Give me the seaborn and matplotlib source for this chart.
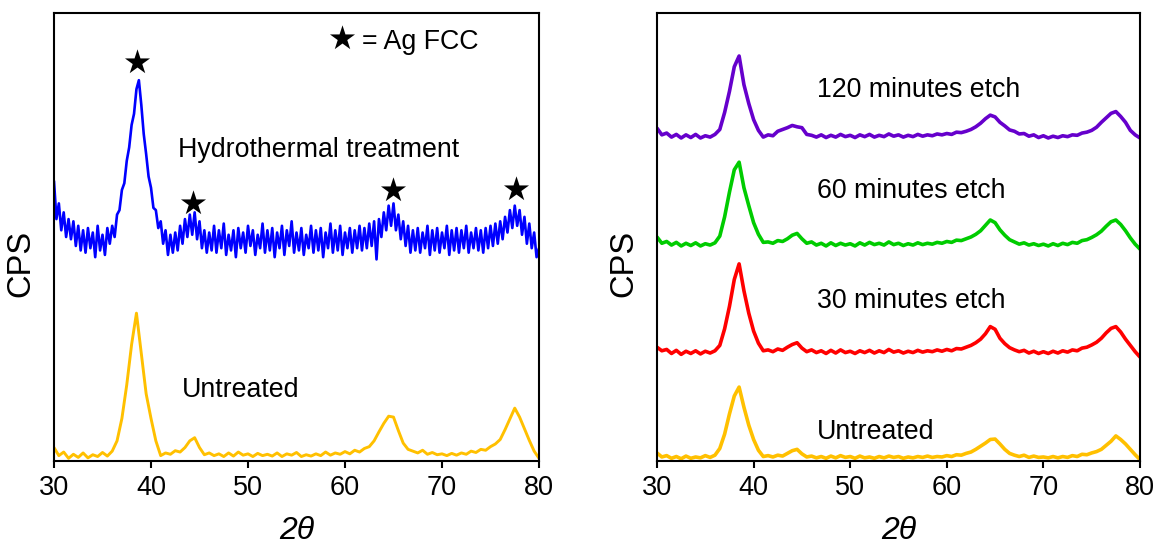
import numpy as np
import pandas as pd
import matplotlib
matplotlib.use("Agg")
import matplotlib.pyplot as plt
import seaborn as sns

# ---------------- data ----------------
two_theta = np.linspace(30, 80, 101)        # 0.5 deg steps
two_theta_fine = np.linspace(30, 80, 201)   # 0.25 deg steps

untreated_left = [
    3.0, 1.2, 2.0, 0.6, 1.5, 0.8, 1.8, 0.7, 1.4, 1.0,
    1.9, 1.1, 2.2, 4.5, 9.5, 17.0, 26.0, 33.0, 24.0, 15.0,
    9.5, 4.5, 1.2, 1.8, 1.5, 2.3, 2.0, 3.0, 4.5, 5.2,
    3.0, 1.4, 1.8, 1.2, 1.6, 1.0, 1.8, 1.1, 2.0, 1.3,
    1.6, 1.0, 1.7, 1.2, 1.5, 1.1, 1.8, 1.0, 1.6, 1.3,
    1.9, 1.0, 1.4, 1.1, 1.6, 1.2, 2.0, 1.3, 1.8, 1.5,
    2.1, 1.6, 2.4, 2.0, 2.8, 3.2, 4.5, 6.5, 8.4, 10.0,
    9.8, 6.8, 4.0, 2.6, 2.2, 1.8, 2.4, 1.5, 1.9, 1.4,
    1.6, 1.2, 1.7, 1.3, 1.8, 1.5, 2.2, 1.9, 2.6, 2.4,
    3.2, 3.8, 4.8, 7.0, 9.4, 11.8, 9.8, 7.2, 4.6, 2.2,
    0.6,
]

hydrothermal = [
    62.5, 54.0, 57.5, 51.5, 55.5, 50.0, 54.0, 49.5, 53.5, 48.0,
    52.5, 47.0, 51.5, 46.5, 52.0, 47.5, 51.0, 45.5, 52.5, 47.0,
    50.5, 46.0, 52.0, 48.5, 52.5, 50.0, 55.0, 56.0, 60.5, 62.0,
    67.0, 70.0, 75.0, 77.5, 83.0, 85.0, 79.5, 73.0, 68.5, 63.5,
    61.0, 56.5, 56.0, 52.0, 53.5, 48.5, 51.5, 46.0, 50.5, 46.5,
    51.0, 47.0, 52.5, 48.5, 54.0, 50.0, 55.0, 50.5, 55.5, 49.5,
    53.5, 47.5, 51.5, 46.5, 51.0, 47.0, 52.5, 46.5, 51.5, 47.5,
    53.0, 46.0, 50.5, 47.0, 51.5, 45.5, 52.0, 47.5, 51.0, 46.5,
    52.5, 48.0, 51.5, 46.0, 50.5, 47.5, 53.0, 46.5, 51.5, 47.0,
    52.0, 45.5, 51.0, 47.5, 52.5, 46.0, 51.5, 48.0, 53.5, 46.5,
    51.0, 47.0, 52.0, 46.0, 50.5, 47.5, 52.5, 46.5, 51.5, 47.0,
    52.0, 45.5, 51.0, 47.5, 53.0, 46.5, 51.5, 47.0, 52.5, 46.0,
    51.0, 47.5, 52.0, 46.5, 51.5, 47.5, 52.5, 47.0, 52.0, 47.5,
    53.0, 48.0, 53.5, 45.0, 54.0, 50.0, 55.5, 51.5, 57.0, 52.5,
    57.5, 51.5, 55.0, 49.5, 53.5, 48.0, 52.5, 46.5, 51.5, 47.0,
    52.0, 46.5, 51.0, 47.5, 52.5, 46.0, 51.5, 47.0, 52.0, 46.5,
    51.0, 47.5, 52.5, 46.0, 51.5, 47.0, 52.0, 46.5, 51.5, 47.5,
    52.5, 46.5, 51.0, 47.5, 52.0, 47.0, 51.5, 46.5, 52.0, 47.5,
    52.5, 48.0, 53.0, 48.5, 53.5, 49.5, 54.5, 51.0, 56.0, 52.0,
    57.0, 52.5, 56.0, 50.5, 54.5, 48.5, 53.0, 47.5, 51.0, 45.5,
    47.5,
]

untreated_right = [
    1.8, 0.9, 1.2, 0.6, 1.0, 0.5, 1.1, 0.6, 0.9, 0.7,
    1.2, 0.8, 1.3, 2.8, 6.0, 10.5, 14.5, 16.5, 12.0, 8.0,
    4.8, 2.4, 1.0, 1.2, 0.9, 1.3, 1.1, 1.7, 2.3, 2.6,
    1.6, 0.9, 1.1, 0.7, 1.0, 0.6, 1.1, 0.7, 1.2, 0.8,
    1.0, 0.6, 1.1, 0.7, 0.9, 0.6, 1.0, 0.7, 1.1, 0.8,
    1.0, 0.6, 0.9, 0.7, 1.0, 0.8, 1.1, 0.8, 1.0, 0.9,
    1.2, 1.0, 1.4, 1.3, 1.7, 2.0, 2.6, 3.3, 4.0, 4.8,
    4.9, 3.8, 2.6, 1.7, 1.3, 1.0, 1.3, 0.8, 1.1, 0.8,
    0.9, 0.7, 1.0, 0.7, 1.0, 0.8, 1.2, 1.0, 1.5, 1.4,
    1.8, 2.1, 2.6, 3.5, 4.4, 5.6, 4.8, 3.8, 2.6, 1.4,
    0.3,
]

etch_30 = [
    25.4, 24.6, 24.9, 24.0, 24.7, 23.8, 24.5, 24.0, 24.6, 23.9,
    24.5, 24.1, 24.6, 25.8, 29.5, 34.5, 40.5, 44.0, 38.0, 33.0,
    29.0, 26.3, 24.6, 24.8, 24.4, 25.0, 24.7, 25.4, 26.0, 26.4,
    25.2, 24.4, 24.8, 24.2, 24.6, 24.0, 24.7, 24.1, 24.8, 24.2,
    24.5, 24.0, 24.6, 24.2, 24.7, 24.1, 24.6, 24.2, 24.9, 24.3,
    24.6, 24.1, 24.5, 24.2, 24.7, 24.3, 24.6, 24.4, 24.8, 24.5,
    24.9, 24.6, 25.1, 25.0, 25.4, 25.8, 26.4, 27.2, 28.4, 30.0,
    29.4, 27.4, 26.2, 25.3, 24.8, 24.4, 24.7, 24.1, 24.5, 24.0,
    24.4, 24.0, 24.5, 24.1, 24.6, 24.3, 24.8, 24.6, 25.2, 25.4,
    25.9, 26.5, 27.4, 28.6, 29.6, 30.0, 28.8, 27.2, 25.8, 24.4,
    23.2,
]

etch_60 = [
    50.0, 48.6, 49.0, 48.2, 48.8, 48.0, 48.6, 48.1, 48.7, 48.0,
    48.5, 48.2, 48.7, 50.2, 54.5, 60.0, 65.0, 66.7, 61.0, 57.0,
    53.2, 50.6, 48.8, 48.9, 48.6, 49.2, 49.0, 49.6, 50.4, 50.8,
    49.6, 48.6, 48.9, 48.2, 48.6, 48.0, 48.7, 48.1, 48.6, 48.2,
    48.5, 48.0, 48.7, 48.2, 48.8, 48.3, 48.6, 48.2, 48.9, 48.3,
    48.6, 48.1, 48.5, 48.2, 48.7, 48.3, 48.6, 48.4, 48.8, 48.6,
    49.0, 48.8, 49.3, 49.2, 49.6, 50.0, 50.6, 51.4, 52.6, 53.8,
    53.2, 51.6, 50.4, 49.4, 48.9, 48.4, 48.7, 48.2, 48.5, 48.1,
    48.4, 48.0, 48.5, 48.1, 48.6, 48.3, 48.8, 48.6, 49.2, 49.4,
    49.9, 50.5, 51.3, 52.4, 53.4, 53.8, 52.8, 51.4, 49.8, 48.4,
    47.3,
]

etch_120 = [
    74.3, 72.8, 73.2, 72.3, 72.9, 72.1, 72.8, 72.2, 72.9, 72.1,
    72.6, 72.3, 72.9, 74.0, 77.8, 82.5, 88.0, 90.4, 84.0, 79.8,
    76.2, 73.8, 72.3, 72.8, 72.6, 73.6, 74.0, 74.4, 74.9, 74.6,
    74.4, 72.9, 72.7, 72.3, 72.8, 72.2, 72.7, 72.3, 72.9, 72.4,
    72.7, 72.2, 72.8, 72.4, 72.9, 72.3, 72.7, 72.4, 73.0, 72.5,
    72.8, 72.3, 72.7, 72.4, 72.9, 72.5, 72.8, 72.6, 73.0, 72.8,
    73.1, 72.9, 73.4, 73.3, 73.6, 74.0, 74.6, 75.4, 76.4, 77.2,
    76.8, 75.6, 74.8, 73.9, 73.6, 73.0, 73.1, 72.5, 72.8, 72.2,
    72.6, 72.1, 72.5, 72.2, 72.6, 72.4, 72.8, 72.7, 73.2, 73.4,
    73.8, 74.5, 75.6, 76.6, 77.6, 78.0, 76.9, 75.6, 73.8, 72.8,
    72.1,
]

star_x = [38.6, 44.3, 64.9, 77.6]
star_y = [89.1, 57.6, 60.5, 60.7]

x_ticks = [30, 40, 50, 60, 70, 80]

left_labels = ["Hydrothermal treatment", "Untreated"]
left_label_x = [42.8, 43.2]
left_label_y = [69.4, 15.8]

right_labels = ["120 minutes etch", "60 minutes etch", "30 minutes etch", "Untreated"]
right_label_x = [46.6, 46.6, 46.6, 46.6]
right_label_y = [82.9, 60.3, 35.7, 6.4]

# ---------------- style ----------------
sns.set_theme(style="ticks")
plt.rcParams["font.family"] = ["Liberation Sans", "DejaVu Sans"]
plt.rcParams["axes.linewidth"] = 1.5
plt.rcParams["text.color"] = "black"
plt.rcParams["axes.labelcolor"] = "black"
plt.rcParams["xtick.color"] = "black"
plt.rcParams["xtick.labelcolor"] = "black"

fig = plt.figure(figsize=(11.57, 5.47), dpi=100)
ax1 = fig.add_axes([54 / 1157, 86 / 547, 485 / 1157, 448 / 547])
ax2 = fig.add_axes([657 / 1157, 86 / 547, 483 / 1157, 448 / 547])

TXT = 19.3

# ---------------- left panel ----------------
df_u = pd.DataFrame({"2theta": two_theta, "cps": untreated_left})
df_h = pd.DataFrame({"2theta": two_theta_fine, "cps": hydrothermal})
sns.lineplot(data=df_u, x="2theta", y="cps", ax=ax1, color="#FFC000",
             lw=2.1, estimator=None, sort=False)
sns.lineplot(data=df_h, x="2theta", y="cps", ax=ax1, color="#0000FF",
             lw=1.9, estimator=None, sort=False)
sns.scatterplot(x=star_x, y=star_y, ax=ax1, marker="*", s=360,
                color="black", edgecolor="black", linewidth=0)
sns.scatterplot(x=[59.7], y=[94.4], ax=ax1, marker="*", s=360,
                color="black", edgecolor="black", linewidth=0)
ax1.text(61.8, 93.6, "= Ag FCC", fontsize=TXT, va="center", ha="left", color="black")
for t, x, y in zip(left_labels, left_label_x, left_label_y):
    ax1.text(x, y, t, fontsize=TXT, va="center", ha="left", color="black")

# ---------------- right panel ----------------
for vals, col in [(untreated_right, "#FFC000"), (etch_30, "#FF0000"),
                  (etch_60, "#00CC00"), (etch_120, "#6600CC")]:
    d = pd.DataFrame({"2theta": two_theta, "cps": vals})
    sns.lineplot(data=d, x="2theta", y="cps", ax=ax2, color=col,
                 lw=2.6, estimator=None, sort=False)
for t, x, y in zip(right_labels, right_label_x, right_label_y):
    ax2.text(x, y, t, fontsize=TXT, va="center", ha="left", color="black")

# ---------------- axes formatting ----------------
for ax in (ax1, ax2):
    ax.set_xlim(30, 80)
    ax.set_ylim(0, 100)
    ax.set_xticks(x_ticks)
    ax.set_yticks([])
    ax.tick_params(axis="x", direction="out", length=5, width=1.5,
                   labelsize=19.5, pad=5, colors="black")
    for s in ax.spines.values():
        s.set_visible(True)
        s.set_color("black")
        s.set_linewidth(1.5)
    ax.set_xlabel("2θ", fontsize=23, fontstyle="italic", color="black")
    ax.set_ylabel("CPS", fontsize=23.5, color="black")
    ax.xaxis.set_label_coords(0.5, -0.122)
    if ax.get_legend() is not None:
        ax.get_legend().remove()

ax1.yaxis.set_label_coords(-0.036, 0.44)
ax2.yaxis.set_label_coords(-0.036 * 485 / 483, 0.44)

fig.savefig("out.png", dpi=100)
